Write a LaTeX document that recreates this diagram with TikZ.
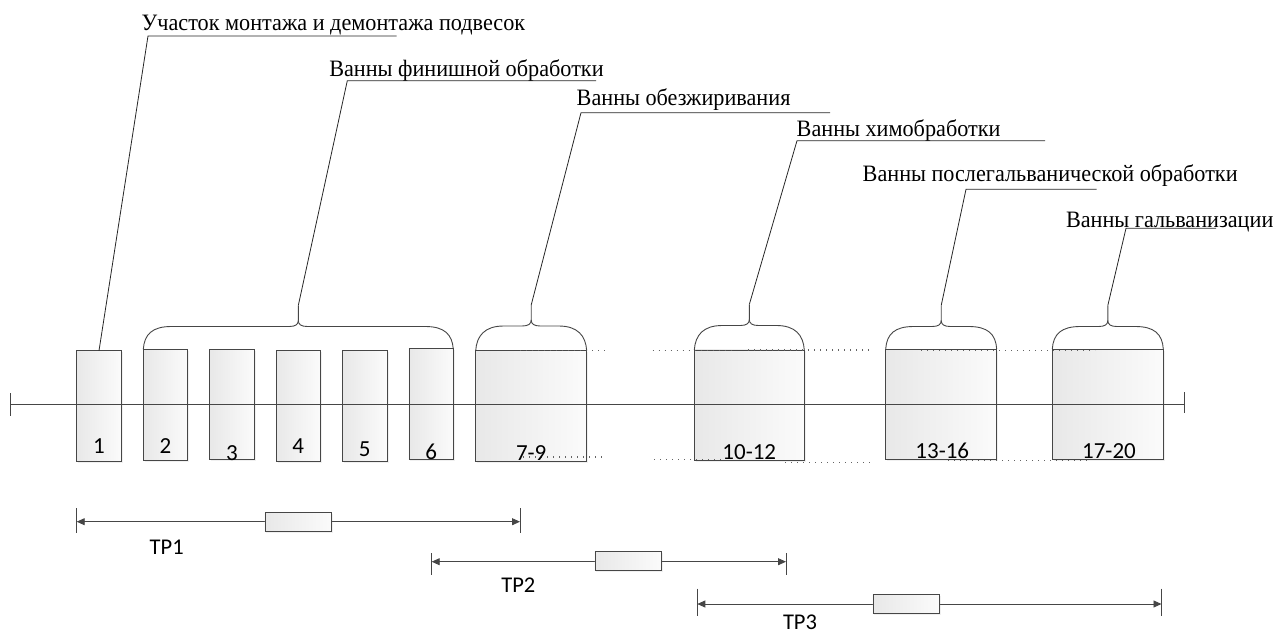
\documentclass[tikz,border=0pt]{standalone}
\usepackage{fontspec}
\setmainfont{Liberation Serif}[FakeStretch=0.945]
\newfontfamily\calib{Carlito}
\usetikzlibrary{arrows.meta,shadows}
\definecolor{lc}{RGB}{70,70,70}
\definecolor{boxl}{RGB}{232,232,232}
\definecolor{boxr}{RGB}{251,251,251}
\definecolor{dotc}{RGB}{100,100,100}
\tikzset{
  lbl/.style={font=\fontsize{23.5}{28}\selectfont, anchor=base west, inner sep=0pt, outer sep=0pt},
  num/.style={font=\calib\fontsize{23}{27}\selectfont, anchor=base, inner sep=0pt},
  tplbl/.style={font=\calib\fontsize{22.5}{27}\selectfont, anchor=base, inner sep=0pt},
  bath/.style={draw=lc, line width=0.9pt, left color=boxl, right color=boxr, inner sep=0pt, outer sep=0pt,
    drop shadow={opacity=0.12, shadow xshift=1.5pt, shadow yshift=-1.5pt}},
  narrow/.style={bath, minimum width=44.5pt, minimum height=111pt},
  wide/.style={bath, minimum width=111pt, minimum height=111pt},
  tpbox/.style={bath, minimum width=66.7pt, minimum height=19.3pt},
  ldr/.style={draw=black!85, line width=0.8pt},
  brc/.style={draw=lc, line width=0.9pt},
  axisline/.style={draw=lc, line width=1pt},
  dots/.style={draw=dotc, line width=1.1pt, dash pattern=on 1pt off 5pt},
  tparrow/.style={draw=lc, line width=0.9pt, {Triangle[length=8pt,width=7pt]}-{Triangle[length=8pt,width=7pt]}},
  tick/.style={draw=lc, line width=1pt},
  pics/tbrace/.style 2 args={code={
    \draw[brc] ({-#1},{#2}) .. controls ({-#1+1},{#2-15}) and ({-#1+9},0) .. ({-#1+28},0) -- (-9,0) .. controls (-3,0) and (0,-2) .. (0,-6) -- (0,-21);
    \draw[brc] ({#1},{#2}) .. controls ({#1-1},{#2-15}) and ({#1-9},0) .. ({#1-28},0) -- (9,0) .. controls (3,0) and (0,-2) .. (0,-6);
    \coordinate (-top) at (0,-21);
  }}
}
\begin{document}
\begin{tikzpicture}[x=1pt,y=-1pt]
\useasboundingbox (0,0) rectangle (1275,634);

% baths
\node[narrow] (b1) at (99,406.2) {};
\node[narrow, minimum height=110.7pt] (b2) at (165.5,404.7) {};
\node[narrow, minimum height=110.7pt] (b3) at (232,404.5) {};
\node[narrow] (b4) at (298.3,406.2) {};
\node[narrow] (b5) at (364.8,406.2) {};
\node[narrow, minimum height=110.6pt] (b6) at (431.2,404) {};
\node[wide] (b7) at (531.2,406.2) {};
\node[wide, minimum width=110pt, minimum height=110.7pt] (b10) at (749.3,405.3) {};
\node[wide, minimum height=110.3pt] (b13) at (941.2,404.2) {};
\node[wide, minimum height=110.3pt] (b17) at (1107.8,404.2) {};

% dotted guide lines
\draw[dots] (520,350.7) -- (606.7,350.7);
\draw[dots] (652.7,350.7) -- (733,350.7);
\draw[dots] (748,350) -- (873,350);
\draw[dots] (921,350.3) -- (1095,350.3);
\draw[dots] (523,457) -- (606.7,457);
\draw[dots] (654,459.3) -- (723,459.3);
\draw[dots] (785,462.7) -- (873,462.7);
\draw[dots] (948,460.3) -- (1090,460.3);

% main line
\coordinate (ml) at (10.7,404);
\coordinate (mr) at (1184.3,404);
\draw[axisline] (ml) -- (mr);
\draw[axisline] (10.7,393) -- (10.7,416);
\draw[axisline] (1184.3,392) -- (1184.3,413);

% numbers
\node[num] (n1) at (99,453.3) {1};
\node[num] (n2) at (165.5,453) {2};
\node[num] (n3) at (232,460) {3};
\node[num] (n4) at (298.3,453.3) {4};
\node[num] (n5) at (364.8,456.7) {5};
\node[num] (n6) at (431.2,459.3) {6};
\node[num] (n7) at (531.2,460.7) {7-9};
\node[num] (n10) at (749.3,459.3) {10-12};
\node[num] (n13) at (942.3,458.3) {13-16};
\node[num] (n17) at (1109,458.3) {17-20};

% braces
\pic (br26) at (298.3,326.5) {tbrace={155}{22.8}};
\pic (br79) at (531.2,326) {tbrace={55.5}{24.7}};
\pic (br1012) at (749.3,325.5) {tbrace={55}{24.5}};
\pic (br1316) at (941.2,326.5) {tbrace={55.5}{22.5}};
\pic (br1720) at (1107.8,326.5) {tbrace={55.5}{22.5}};

% labels
\node[lbl] (t1) at (141.7,30.7) {Участок монтажа и демонтажа подвесок};
\node[lbl] (t2) at (329.3,76.7) {Ванны финишной обработки};
\node[lbl] (t3) at (576.7,106) {Ванны обезжиривания};
\node[lbl] (t4) at (796.7,136.7) {Ванны химобработки};
\node[lbl] (t5) at (862.7,181.7) {Ванны послегальванической обработки};
\node[lbl] (t6) at (1066,227) {Ванны гальванизации};

% leaders
\coordinate (u1s) at (148,36);     \coordinate (u1e) at (396.7,36);
\coordinate (u2s) at (347.3,80.7); \coordinate (u2e) at (596,80.7);
\coordinate (u3s) at (581,112.7);  \coordinate (u3e) at (830,112.7);
\coordinate (u4s) at (797,140.7);  \coordinate (u4e) at (1045,140.7);
\coordinate (u5s) at (966,189.3);  \coordinate (u5e) at (1096.7,189.3);
\coordinate (u6s) at (1126,228.3); \coordinate (u6e) at (1216,228.3);
\draw[ldr] (b1.north) -- (u1s) -- (u1e);
\draw[ldr] (br26-top) -- (u2s) -- (u2e);
\draw[ldr] (br79-top) -- (u3s) -- (u3e);
\draw[ldr] (br1012-top) -- (u4s) -- (u4e);
\draw[ldr] (br1316-top) -- (u5s) -- (u5e);
\draw[ldr] (br1720-top) -- (u6s) -- (u6e);

% TP ranges
\coordinate (p1l) at (76.7,521.7);  \coordinate (p1r) at (520,521.7);
\coordinate (p2l) at (431.7,561.7); \coordinate (p2r) at (786,561.7);
\coordinate (p3l) at (697.3,604);   \coordinate (p3r) at (1161.5,604);
\draw[tick] (76.7,508.3) -- (76.7,533.3);
\draw[tick] (520,508.3) -- (520,533.3);
\draw[tick] (431.7,553.3) -- (431.7,575);
\draw[tick] (786,553.3) -- (786,575);
\draw[tick] (697.3,588.7) -- (697.3,616);
\draw[tick] (1161.5,588.7) -- (1161.5,616);
\draw[tparrow] (p1l) -- (p1r);
\draw[tparrow] (p2l) -- (p2r);
\draw[tparrow] (p3l) -- (p3r);
\node[tpbox] (r1) at (298.3,521.7) {};
\node[tpbox] (r2) at (628.3,561.2) {};
\node[tpbox] (r3) at (906.3,604) {};
\node[tplbl] (l1) at (166.7,554) {TP1};
\node[tplbl] (l2) at (518.3,592.7) {TP2};
\node[tplbl] (l3) at (800,629.5) {TP3};
\end{tikzpicture}
\end{document}
